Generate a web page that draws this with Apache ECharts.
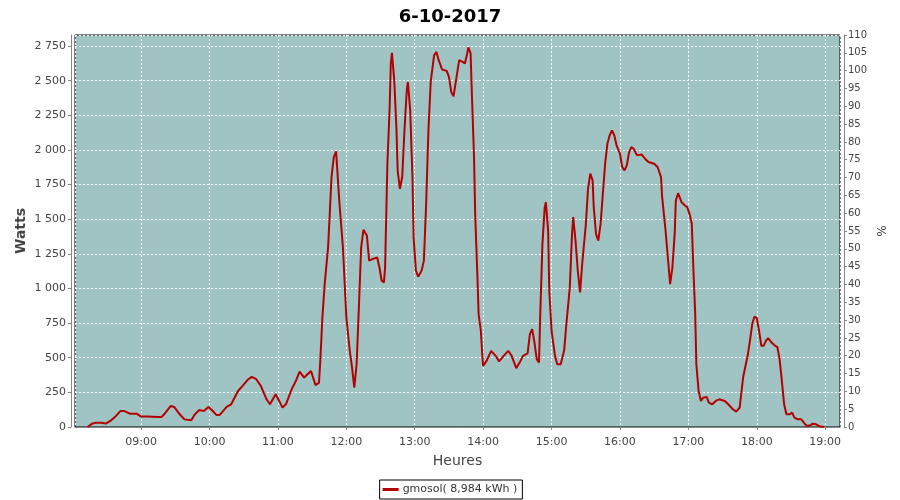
<!DOCTYPE html>
<html>
<head>
<meta charset="utf-8">
<script src="https://cdn.jsdelivr.net/npm/echarts@6/dist/echarts.min.js"></script>
<style>
html,body{margin:0;padding:0;background:#fff;}
#chart{width:900px;height:500px;}
</style>
</head>
<body>
<div id="chart"></div>
<script>
var chartTitle = "6-10-2017";
var seriesName = "gmosol( 8,984 kWh )";
var axisStart = "08:02";
var axisEnd = "19:13";
var times = ["08:13","08:17","08:20","08:25","08:29","08:34","08:38","08:42","08:45","08:50","08:56",
"09:00","09:05","09:10","09:15","09:18","09:20","09:26","09:29","09:34","09:38","09:44","09:47","09:51","09:55","09:59",
"10:02","10:06","10:09","10:15","10:19","10:25","10:29","10:34","10:37","10:41","10:45","10:50","10:53","10:58",
"11:01","11:04","11:07","11:12","11:16","11:19","11:23","11:29","11:33","11:36","11:37","11:39","11:41","11:44","11:47","11:49","11:51","11:54","11:57",
"12:00","12:03","12:05","12:07","12:09","12:11","12:13","12:15","12:18","12:20","12:23","12:27","12:29","12:31","12:33","12:34","12:36","12:38","12:39","12:40","12:42","12:44","12:45","12:47","12:49","12:51","12:53","12:54","12:56","12:58","12:59",
"13:01","13:03","13:06","13:08","13:10","13:12","13:14","13:17","13:19","13:21","13:24","13:28","13:30","13:32","13:34","13:36","13:39","13:42","13:44","13:46","13:47","13:49","13:50","13:52","13:53","13:55","13:56","13:58","13:59",
"14:00","14:03","14:07","14:11","14:14","14:18","14:22","14:25","14:29","14:32","14:35","14:39","14:41","14:43","14:45","14:47","14:49","14:50","14:52","14:54","14:55","14:57","14:58",
"15:00","15:03","15:05","15:08","15:11","15:13","15:16","15:18","15:19","15:21","15:23","15:25","15:27","15:30","15:32","15:34","15:36","15:37","15:39","15:41","15:43","15:45","15:47","15:49","15:51","15:53","15:55","15:57",
"16:00","16:02","16:04","16:06","16:08","16:10","16:12","16:15","16:19","16:22","16:25","16:30","16:33","16:36","16:37","16:40","16:42","16:44","16:46","16:48","16:49","16:51","16:54","16:57","16:59",
"17:01","17:03","17:04","17:06","17:07","17:09","17:11","17:13","17:16","17:18","17:21","17:24","17:27","17:32","17:35","17:39","17:42","17:45","17:46","17:48","17:51","17:52","17:54","17:56","17:58",
"18:00","18:02","18:04","18:06","18:08","18:10","18:13","18:16","18:18","18:20","18:22","18:24","18:26","18:29","18:31","18:33","18:36","18:39","18:42","18:44","18:47","18:49","18:52","18:55","18:59"];
var watts = [0,24,30,30,25,50,80,116,116,96,96,
75,75,74,73,73,90,152,145,90,55,48,90,123,116,145,
123,87,87,145,164,260,297,345,362,345,297,200,164,236,
190,140,164,272,338,400,357,404,302,320,453,791,1032,1297,1804,1949,1990,1611,1297,
791,550,429,284,453,863,1297,1423,1383,1201,1213,1225,1153,1056,1044,1153,1901,2311,2625,2701,2504,2142,1852,1720,1805,2142,2431,2491,2287,1805,1370,
1129,1085,1129,1201,1611,2142,2491,2684,2708,2648,2581,2571,2528,2419,2388,2491,2648,2636,2624,2697,2740,2697,2431,1949,1539,1080,815,695,550,
441,477,550,514,473,514,550,514,425,465,514,531,671,707,610,490,465,791,1322,1587,1623,1418,984,
695,514,453,453,550,743,1008,1400,1515,1346,1129,972,1190,1455,1720,1829,1780,1587,1394,1346,1467,1684,1901,2046,2106,2142,2106,2034,
1973,1877,1853,1889,1985,2021,2009,1961,1968,1937,1913,1901,1877,1804,1660,1418,1225,1032,1153,1394,1635,1688,1623,1599,1587,
1539,1467,1225,815,453,260,188,212,217,176,164,188,200,188,164,128,111,140,212,357,477,514,622,743,798,
786,695,586,586,622,641,610,586,579,490,333,164,92,92,104,68,56,56,24,8,12,24,20,5,0];

function ts(s){ var p = s.split(':'); return new Date(2017, 9, 6, +p[0], +p[1]).getTime(); }
function spaced(v){ return String(v).replace(/\B(?=(\d{3})+(?!\d))/g, ' '); }

var FONT = 'DejaVu Sans';
var chart = echarts.init(document.getElementById('chart'), null, {renderer:'canvas'});
var data = times.map(function(t,i){ return [ts(t), watts[i]]; });

chart.setOption({
  animation: false,
  backgroundColor: '#ffffff',
  title: { text: chartTitle, left: 'center', top: 3,
    textStyle: { fontFamily: FONT, fontSize: 18, fontWeight: 'bold', color: '#000' } },
  legend: { bottom: 1, left: 'center', data: [seriesName], icon: 'rect', itemWidth: 16, itemHeight: 3, itemGap: 4,
    borderColor: '#000', borderWidth: 1, borderRadius: 0, padding: [4, 5, 4, 3], backgroundColor: '#fff',
    textStyle: { fontFamily: FONT, fontSize: 11, color: '#333', padding: [0, 0, 0, -1] } },
  grid: { left: 75, right: 60, top: 35, bottom: 73, show: true, backgroundColor: '#9fc4c3', borderColor: '#000', borderWidth: 1 },
  xAxis: {
    type: 'time', min: ts(axisStart), max: ts(axisEnd), minInterval: 3600000, maxInterval: 3600000,
    offset: 4,
    name: 'Heures', nameLocation: 'middle', nameGap: 23,
    nameTextStyle: { fontFamily: FONT, fontSize: 14, color: '#444' },
    axisLine: { show: true, lineStyle: { color: '#888', width: 1 } },
    axisTick: { show: true, length: 3, lineStyle: { color: '#888' } },
    axisLabel: { formatter: '{HH}:{mm}', showMinLabel: false, showMaxLabel: false, fontFamily: FONT, fontSize: 11, color: '#444', margin: 6 },
    splitLine: { show: true, lineStyle: { color: '#ffffff', width: 1, type: [2, 2] } }
  },
  yAxis: [
    { type: 'value', min: 0, max: 2830, interval: 250, offset: 4, position: 'left',
      name: 'Watts', nameLocation: 'middle', nameGap: 43, nameMoveOverlap: false,
      nameTextStyle: { fontFamily: FONT, fontSize: 14, fontWeight: 'bold', color: '#444' },
      axisLine: { show: true, lineStyle: { color: '#888' } },
      axisTick: { show: true, length: 3, lineStyle: { color: '#888' } },
      axisLabel: { showMaxLabel: false, formatter: function(v){ return v % 250 === 0 ? spaced(v) : ''; }, fontFamily: FONT, fontSize: 11, color: '#444', margin: 5 },
      splitLine: { show: true, lineStyle: { color: '#ffffff', width: 1, type: [2, 2] } } },
    { type: 'value', min: 0, max: 110, interval: 5, offset: 4, position: 'right',
      name: '%', nameLocation: 'middle', nameGap: 30, nameRotate: -90, nameMoveOverlap: false,
      nameTextStyle: { fontFamily: FONT, fontSize: 12, color: '#444' },
      axisLine: { show: true, lineStyle: { color: '#888' } },
      axisTick: { show: true, length: 3, lineStyle: { color: '#888' } },
      axisLabel: { fontFamily: FONT, fontSize: 10, color: '#444', margin: 4 },
      splitLine: { show: false } }
  ],
  series: [{
    name: seriesName, type: 'line', yAxisIndex: 0, data: data, showSymbol: false, symbol: 'none',
    lineStyle: { color: '#b40000', width: 2 }, itemStyle: { color: '#b40000' }
  }]
});
</script>
</body>
</html>
